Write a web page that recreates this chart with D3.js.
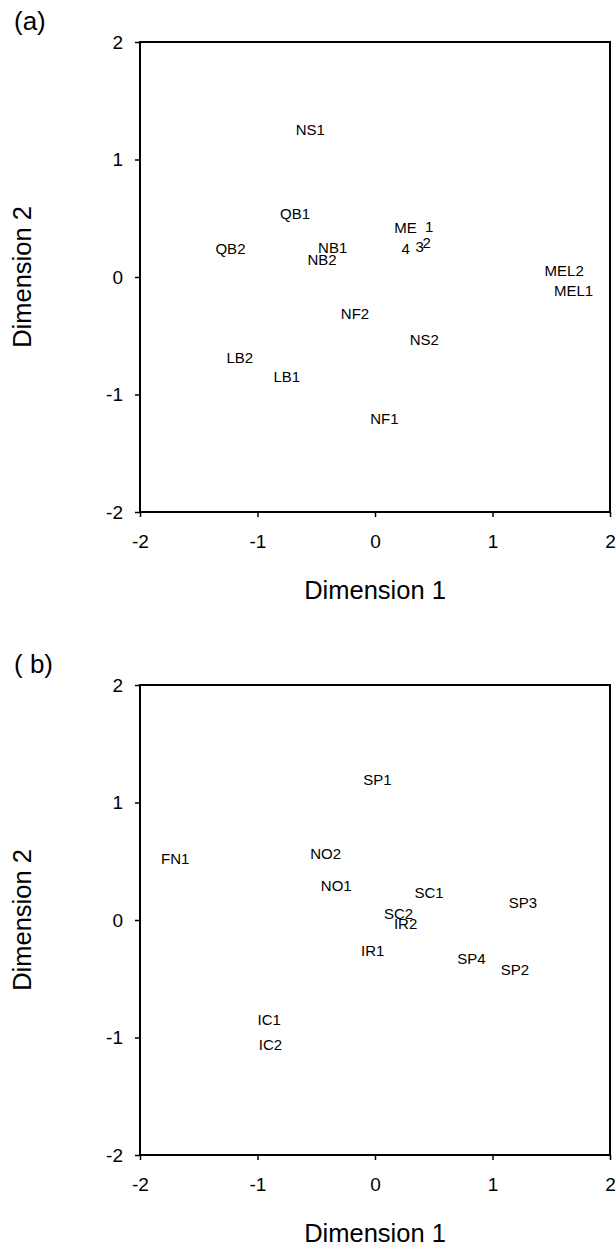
<!DOCTYPE html>
<html>
<head>
<meta charset="utf-8">
<script src="https://cdn.jsdelivr.net/npm/d3@7"></script>
<style>
  body { margin: 0; background: #fff; }
  svg { font-family: "Liberation Sans", Arial, sans-serif; }
</style>
</head>
<body>
<svg id="vis" width="616" height="1248"></svg>
<script>
// panel (a) points
var labelsA = ["NS1", "QB1", "QB2", "NB1", "NB2", "ME", "1", "4", "3", "2",
               "MEL2", "MEL1", "NF2", "NS2", "LB2", "LB1", "NF1"];
var dim1A = [-0.55, -0.68, -1.23, -0.36, -0.45, 0.26, 0.46, 0.26, 0.38, 0.44,
             1.61, 1.69, -0.17, 0.42, -1.15, -0.75, 0.08];
var dim2A = [1.25, 0.54, 0.24, 0.25, 0.15, 0.42, 0.43, 0.24, 0.26, 0.29,
             0.05, -0.12, -0.31, -0.53, -0.69, -0.85, -1.21];

// panel (b) points
var labelsB = ["SP1", "FN1", "NO2", "NO1", "SC1", "SP3", "SC2", "IR2", "IR1",
               "SP4", "SP2", "IC1", "IC2"];
var dim1B = [0.02, -1.70, -0.42, -0.33, 0.46, 1.26, 0.20, 0.26, -0.02,
             0.82, 1.19, -0.90, -0.89];
var dim2B = [1.19, 0.52, 0.56, 0.29, 0.23, 0.15, 0.05, -0.03, -0.26,
             -0.33, -0.42, -0.85, -1.06];

var tickVals = [-2, -1, 0, 1, 2];

var svg = d3.select("#vis");

// plain hyphen for negatives, like the original
function fmt(d) { return String(d); }

function styleAxis(a) {
  a.selectAll("text").attr("font-size", 19).attr("fill", "#000")
    .attr("font-family", "Liberation Sans, Arial, sans-serif");
  a.selectAll("line").attr("stroke", "#000").attr("stroke-width", 1.5);
  a.select(".domain").remove();
}

//draws one panel, top = y of the top of the plot box
function drawPanel(top, tag, labels, xs, ys) {
  var left = 140, size = 470;
  var x = d3.scaleLinear().domain([-2, 2]).range([left, left + size]);
  var y = d3.scaleLinear().domain([-2, 2]).range([top + size, top]);

  var g = svg.append("g");

  g.append("g")
    .attr("transform", "translate(" + left + ",0)")
    .call(d3.axisLeft(y).tickValues(tickVals).tickFormat(fmt)
      .tickSize(5).tickSizeOuter(0).tickPadding(12))
    .call(styleAxis);

  g.append("g")
    .attr("transform", "translate(0," + (top + size) + ")")
    .call(d3.axisBottom(x).tickValues(tickVals).tickFormat(fmt)
      .tickSize(5).tickSizeOuter(0).tickPadding(18))
    .call(styleAxis);

  // box
  g.append("rect")
    .attr("x", x(-2)).attr("y", y(2))
    .attr("width", x(2) - x(-2)).attr("height", y(-2) - y(2))
    .attr("fill", "none").attr("stroke", "#000").attr("stroke-width", 2);

  // point labels
  g.selectAll(".pt")
    .data(labels)
    .enter().append("text")
    .attr("class", "pt")
    .attr("x", function (d, i) { return x(xs[i]); })
    .attr("y", function (d, i) { return y(ys[i]); })
    .attr("dy", "0.35em")
    .attr("text-anchor", "middle")
    .attr("font-size", 15)
    .text(function (d) { return d; });

  g.append("text")
    .attr("x", left + size / 2)
    .attr("y", top + size + 87)
    .attr("text-anchor", "middle")
    .attr("font-size", 25.5)
    .text("Dimension 1");

  g.append("text")
    .attr("transform", "translate(31," + (top + size / 2) + ") rotate(-90)")
    .attr("text-anchor", "middle")
    .attr("font-size", 25.5)
    .text("Dimension 2");

  g.append("text")
    .attr("x", 14)
    .attr("y", top - 12)
    .attr("font-size", 26)
    .text(tag);
}

drawPanel(42, "(a)", labelsA, dim1A, dim2A);
drawPanel(685, "( b)", labelsB, dim1B, dim2B);
</script>
</body>
</html>
